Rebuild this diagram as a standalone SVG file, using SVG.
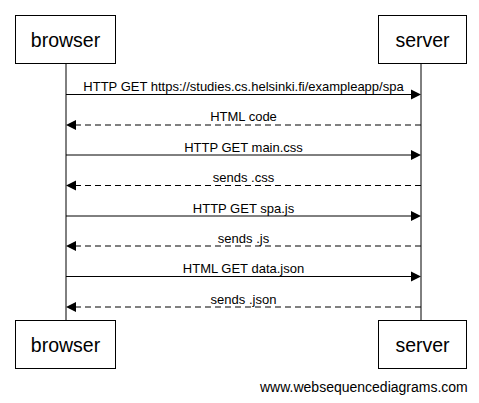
<svg xmlns="http://www.w3.org/2000/svg" width="479" height="403" viewBox="0 0 479 403">
<style>
.box{fill:#fff;stroke:#000;stroke-width:1}
.life{stroke:#000;stroke-width:1}
.t{font-family:"Liberation Sans",Arial,sans-serif;font-size:19.5px;text-anchor:middle;fill:#000}
.m{font-family:"Liberation Sans",Arial,sans-serif;font-size:13px;text-anchor:middle;fill:#000}
.req{stroke:#000;stroke-width:1;fill:none}
.res{stroke:#000;stroke-width:1;fill:none;stroke-dasharray:6,4}
.f{font-family:"Liberation Sans",Arial,sans-serif;font-size:14px;fill:#000}
</style>
<rect width="479" height="403" fill="#fff"/>
<g id="lifelines">
<line class="life" x1="66" y1="63" x2="66" y2="320"/>
<line class="life" x1="421" y1="63" x2="421" y2="320"/>
</g>
<g id="connectors">
<line class="req" x1="66" y1="94.5" x2="412" y2="94.5"/><polygon points="421,94.5 411,89.5 411,99.5"/>
<text class="m" x="243.5" y="91">HTTP GET https://studies.cs.helsinki.fi/exampleapp/spa</text>
<line class="res" x1="421" y1="125" x2="75" y2="125"/><polygon points="66,125 76,120 76,130"/>
<text class="m" x="243.5" y="121">HTML code</text>
<line class="req" x1="66" y1="155" x2="412" y2="155"/><polygon points="421,155 411,150 411,160"/>
<text class="m" x="243.5" y="151.5">HTTP GET main.css</text>
<line class="res" x1="421" y1="185.5" x2="75" y2="185.5"/><polygon points="66,185.5 76,180.5 76,190.5"/>
<text class="m" x="243.5" y="182">sends .css</text>
<line class="req" x1="66" y1="216" x2="412" y2="216"/><polygon points="421,216 411,211 411,221"/>
<text class="m" x="243.5" y="212.5">HTTP GET spa.js</text>
<line class="res" x1="421" y1="246" x2="75" y2="246"/><polygon points="66,246 76,241 76,251"/>
<text class="m" x="243.5" y="242.5">sends .js</text>
<line class="req" x1="66" y1="276.5" x2="412" y2="276.5"/><polygon points="421,276.5 411,271.5 411,281.5"/>
<text class="m" x="243.5" y="273">HTML GET data.json</text>
<line class="res" x1="421" y1="307" x2="75" y2="307"/><polygon points="66,307 76,302 76,312"/>
<text class="m" x="243.5" y="303.5">sends .json</text>
</g>
<g id="browser-top"><rect class="box" x="15.5" y="15.5" width="100" height="48"/><text class="t" x="65.5" y="47">browser</text></g>
<g id="server-top"><rect class="box" x="378.5" y="15.5" width="88" height="48"/><text class="t" x="422.5" y="47">server</text></g>
<g id="browser-bottom"><rect class="box" x="15.5" y="320.5" width="100" height="48"/><text class="t" x="65.5" y="352">browser</text></g>
<g id="server-bottom"><rect class="box" x="378.5" y="320.5" width="88" height="48"/><text class="t" x="422.5" y="352">server</text></g>
<text class="f" x="260" y="392">www.websequencediagrams.com</text>
</svg>
